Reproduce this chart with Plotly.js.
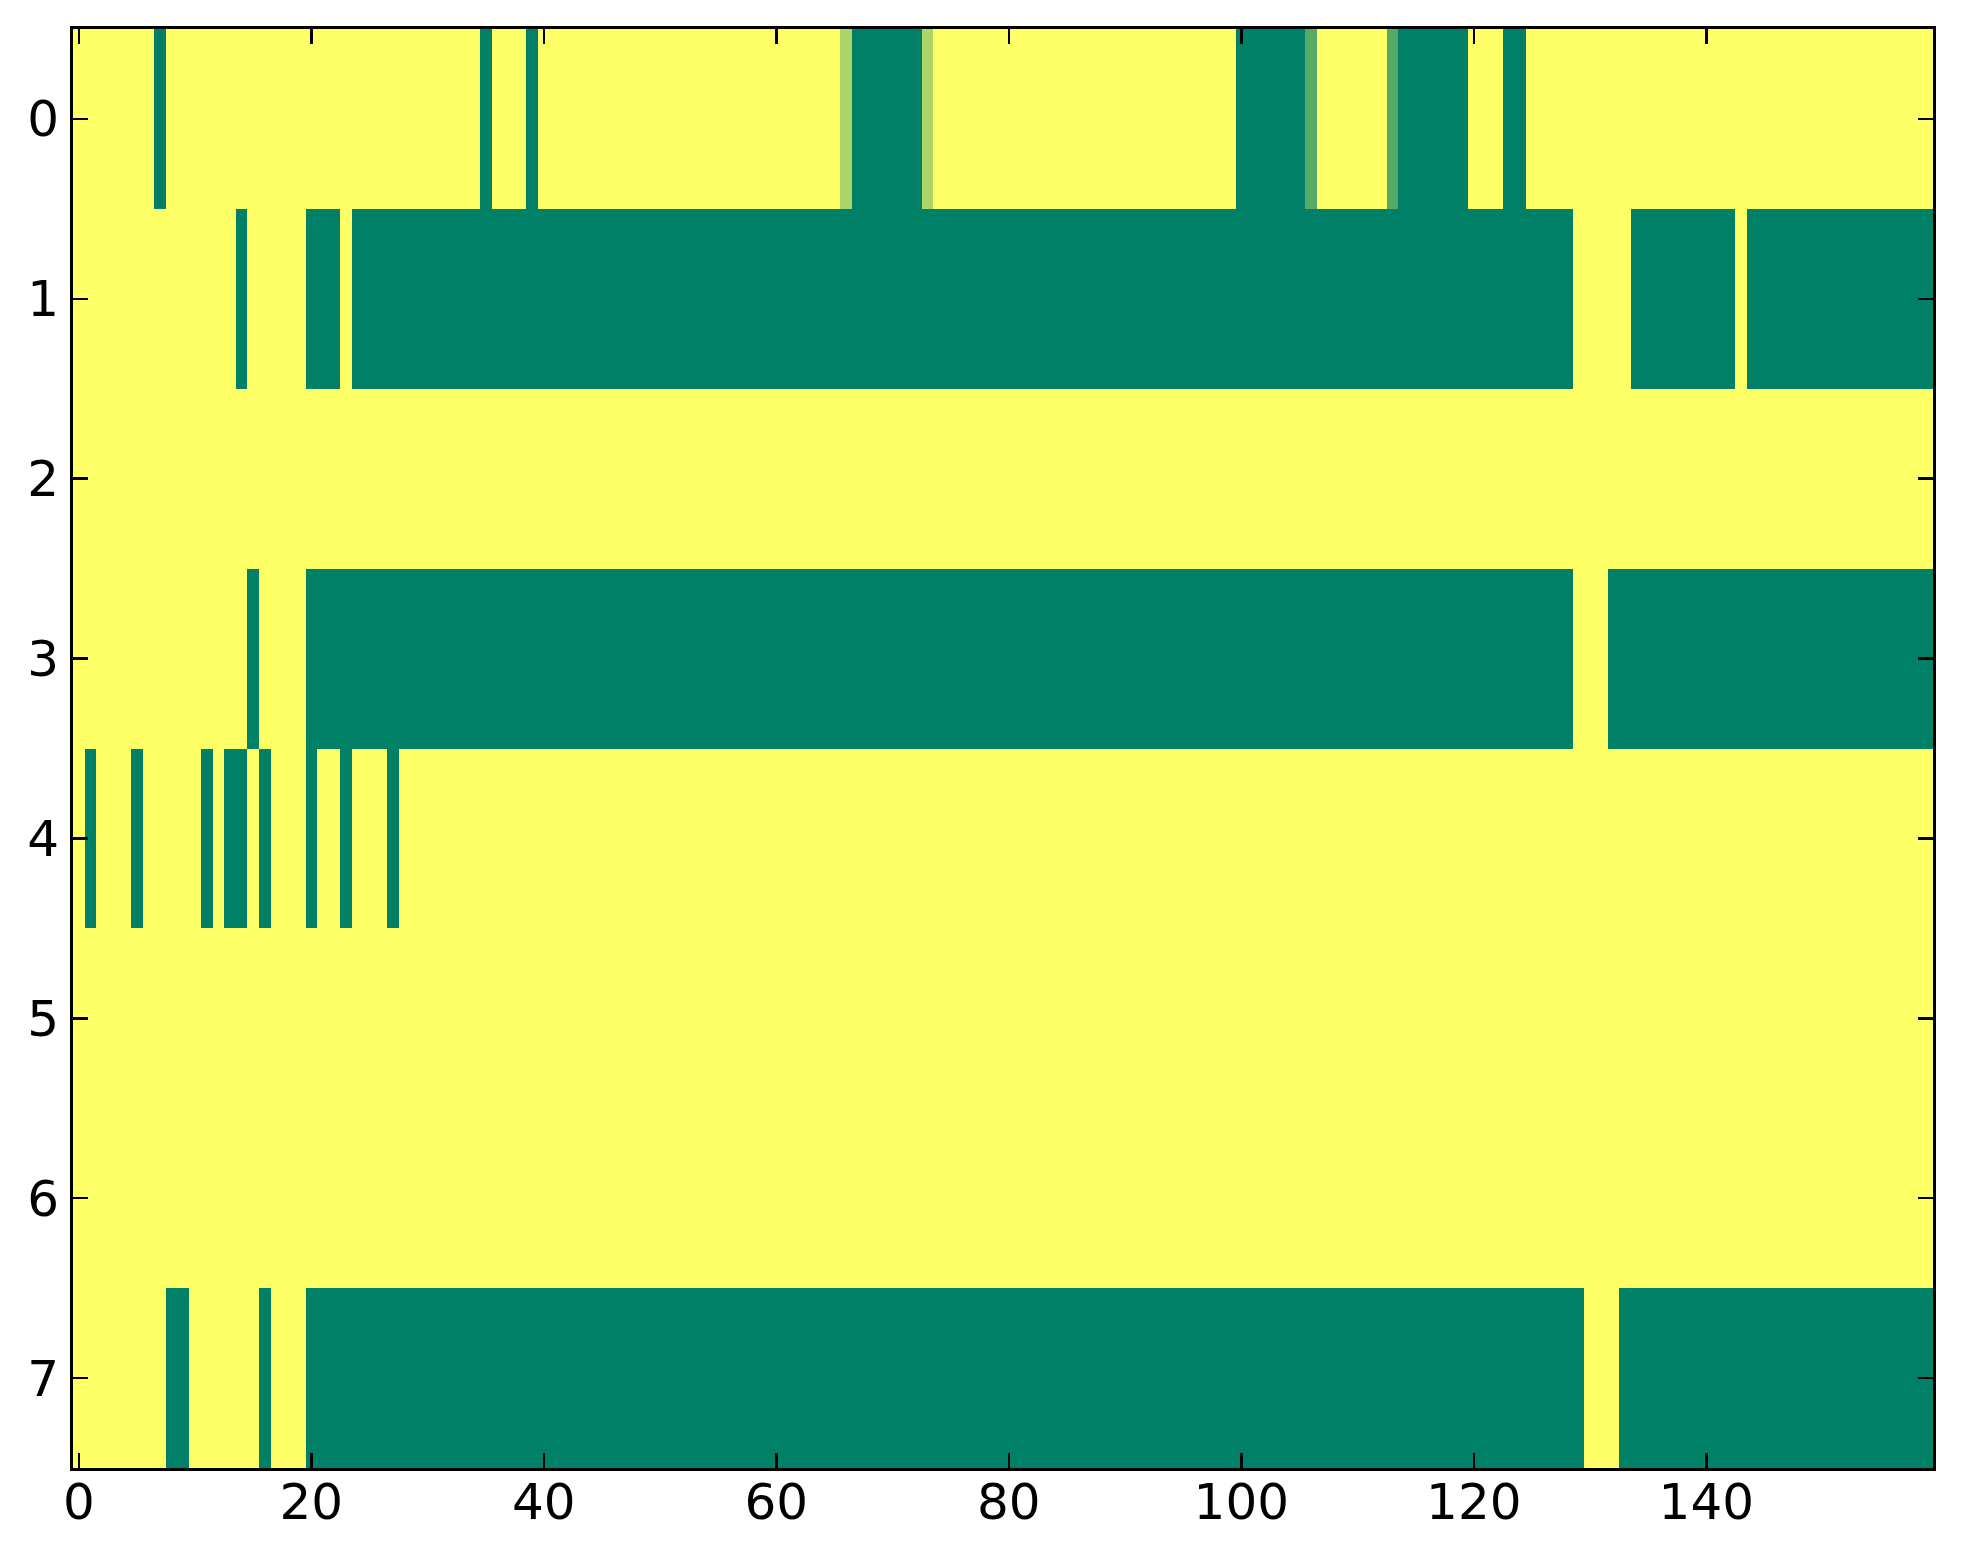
<!DOCTYPE html>
<html>
<head>
<meta charset="utf-8">
<script src="https://cdn.plot.ly/plotly-3.0.1.min.js"></script>
<style>html,body{margin:0;padding:0;background:#fff;}</style>
</head>
<body>
<div id="chart" style="width:1963px;height:1564px;"></div>
<script>
// Each row as runs of [value, number of columns] (160 columns per row)
const row0 = [[1,7],[0,1],[1,27],[0,1],[1,3],[0,1],[1,26],[0.67,1],[0,6],[0.67,1],[1,26],[0,6],[0.33,1],[1,6],[0.33,1],[0,6],[1,3],[0,2],[1,35]];
const row1 = [[1,14],[0,1],[1,5],[0,3],[1,1],[0,105],[1,5],[0,9],[1,1],[0,16]];
const row2 = [[1,160]];
const row3 = [[1,15],[0,1],[1,4],[0,109],[1,3],[0,28]];
const row4 = [[1,1],[0,1],[1,3],[0,1],[1,5],[0,1],[1,1],[0,2],[1,1],[0,1],[1,3],[0,1],[1,2],[0,1],[1,3],[0,1],[1,132]];
const row5 = [[1,160]];
const row6 = [[1,160]];
const row7 = [[1,8],[0,2],[1,6],[0,1],[1,3],[0,110],[1,3],[0,27]];

const rows = [row0,row1,row2,row3,row4,row5,row6,row7];
const xTickVals = [0,20,40,60,80,100,120,140];
const yTickVals = [0,1,2,3,4,5,6,7];

function expand(runs){
  const out = [];
  runs.forEach(([v,n]) => { for (let i=0;i<n;i++) out.push(v); });
  return out;
}
const z = rows.map(expand);

const summer = [[0,'#008066'],[1,'#ffff66']];

const font = {family:'DejaVu Sans, sans-serif', size:50, color:'#000'};

const data = [{
  type:'heatmap',
  z: z,
  colorscale: summer,
  zmin: 0, zmax: 1,
  showscale: false,
  hoverinfo: 'skip'
}];

const axisCommon = {
  showline:true, linecolor:'#000', linewidth:3, mirror:'ticks',
  ticks:'inside', ticklen:15, tickwidth:2.5, tickcolor:'#000',
  showgrid:false, zeroline:false, tickfont:font
};

const layout = {
  width:1963, height:1564,
  margin:{l:73, r:30, t:29, b:96, pad:0},
  paper_bgcolor:'#fff', plot_bgcolor:'#fff',
  xaxis: Object.assign({}, axisCommon, {
    range:[-0.5,159.5], tickvals:xTickVals, ticktext:xTickVals.map(String),
    ticklabelstandoff:-12
  }),
  yaxis: Object.assign({}, axisCommon, {
    range:[7.5,-0.5], tickvals:yTickVals, ticktext:yTickVals.map(String),
    ticklabelstandoff:1
  }),
  showlegend:false
};

Plotly.newPlot('chart', data, layout, {displayModeBar:false, staticPlot:true});
</script>
</body>
</html>
